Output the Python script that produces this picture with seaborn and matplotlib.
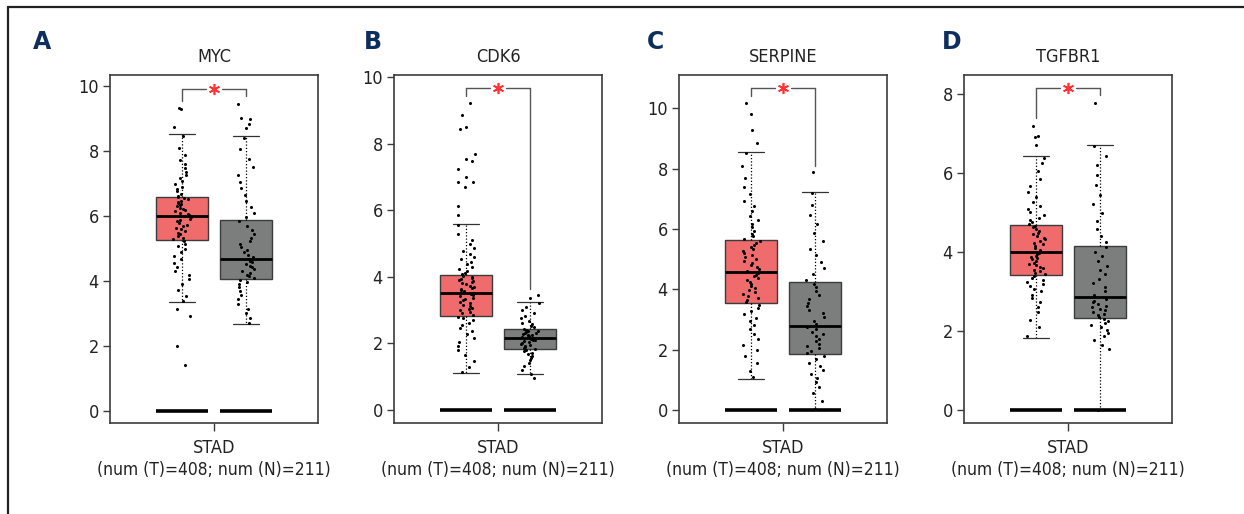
import numpy as np
import pandas as pd
import seaborn as sns
import matplotlib.pyplot as plt
from matplotlib.lines import Line2D

# genes and groups
genes = ['MYC', 'CDK6', 'SERPINE', 'TGFBR1']
panel_letters = ['A', 'B', 'C', 'D']
groups = ['Tumor', 'Normal']
x_label = 'STAD'
n_label = '(num (T)=408; num (N)=211)'

# box statistics (tumor, normal)
q1_values = {'MYC': [5.26, 4.06], 'CDK6': [2.82, 1.83], 'SERPINE': [3.53, 1.84], 'TGFBR1': [3.42, 2.34]}
median_values = {'MYC': [6.01, 4.68], 'CDK6': [3.50, 2.17], 'SERPINE': [4.57, 2.78], 'TGFBR1': [4.00, 2.86]}
q3_values = {'MYC': [6.59, 5.88], 'CDK6': [4.04, 2.42], 'SERPINE': [5.62, 4.23], 'TGFBR1': [4.69, 4.16]}
whisker_low = {'MYC': [3.35, 2.68], 'CDK6': [1.11, 1.07], 'SERPINE': [1.04, 0.0], 'TGFBR1': [1.83, 0.0]}
whisker_high = {'MYC': [8.51, 8.46], 'CDK6': [5.60, 3.24], 'SERPINE': [8.56, 7.22], 'TGFBR1': [6.43, 6.73]}

# bracket: top height, tumor leg end, normal leg end
bracket_top = [9.90, 9.66, 10.66, 8.17]
bracket_tumor_end = [9.54, 9.43, 10.40, 7.41]
bracket_normal_end = [9.67, 3.64, 8.10, 7.98]
baseline_value = 0.0

# sample points
myc_tumor = [3.38, 3.55, 3.72, 3.90, 4.05, 4.18, 4.30, 4.42, 4.55, 4.66, 4.78, 4.88, 4.97, 5.06, 5.14, 5.22,
             5.28, 5.33, 5.38, 5.43, 5.48, 5.53, 5.58, 5.63, 5.68, 5.73, 5.78, 5.83, 5.87, 5.91, 5.95, 5.99,
             6.03, 6.07, 6.10, 6.14, 6.18, 6.21, 6.25, 6.29, 6.32, 6.36, 6.40, 6.43, 6.47, 6.51, 6.54, 6.58,
             6.62, 6.68, 6.75, 6.82, 6.90, 6.98, 7.06, 7.15, 7.24, 7.35, 7.46, 7.58, 7.72, 7.88, 8.10, 8.45,
             9.30, 9.28, 8.73, 3.14, 2.92, 2.00, 1.42]
myc_normal = [2.70, 2.85, 3.00, 3.15, 3.30, 3.45, 3.58, 3.70, 3.80, 3.90, 3.98, 4.04,
              4.09, 4.14, 4.19, 4.25, 4.30, 4.36, 4.42, 4.47, 4.52, 4.57, 4.62, 4.66,
              4.72, 4.80, 4.88, 4.96, 5.05, 5.14, 5.23, 5.32, 5.44, 5.56, 5.70, 5.85,
              5.95, 6.10, 6.28, 6.45, 6.65, 6.85, 7.05, 7.25, 7.50, 7.75, 8.05, 8.40,
              9.44, 9.02, 8.98, 8.83, 8.71]
cdk6_tumor = [1.15, 1.30, 1.48, 1.65, 1.80, 1.93, 2.05, 2.16, 2.27, 2.37, 2.46, 2.54, 2.62, 2.69, 2.75, 2.80,
              2.85, 2.90, 2.94, 2.99, 3.03, 3.07, 3.12, 3.16, 3.20, 3.25, 3.29, 3.33, 3.37, 3.41, 3.45, 3.48,
              3.52, 3.56, 3.59, 3.63, 3.66, 3.70, 3.73, 3.77, 3.80, 3.84, 3.87, 3.90, 3.94, 3.97, 4.00, 4.03,
              4.07, 4.12, 4.18, 4.24, 4.30, 4.37, 4.44, 4.52, 4.60, 4.69, 4.78, 4.88, 4.99, 5.12, 5.30, 5.55,
              9.21, 8.85, 8.51, 8.44, 7.69, 7.55, 7.49, 7.25, 7.01, 6.86, 6.85, 6.70, 6.14, 5.86]
cdk6_normal = [1.08, 1.20, 1.32, 1.42, 1.50, 1.57, 1.63, 1.68, 1.72, 1.76, 1.79, 1.82,
               1.85, 1.88, 1.91, 1.94, 1.97, 2.00, 2.03, 2.06, 2.09, 2.11, 2.13, 2.16,
               2.18, 2.20, 2.22, 2.24, 2.26, 2.28, 2.30, 2.32, 2.34, 2.36, 2.38, 2.41,
               2.44, 2.48, 2.52, 2.57, 2.62, 2.68, 2.75, 2.82, 2.90, 2.99, 3.10, 3.22,
               3.44, 3.36, 0.95]
serpine_tumor = [1.08, 1.30, 1.55, 1.78, 1.98, 2.17, 2.35, 2.52, 2.67, 2.81, 2.94, 3.06, 3.18, 3.29, 3.39, 3.48,
                 3.57, 3.63, 3.70, 3.77, 3.84, 3.90, 3.97, 4.03, 4.10, 4.17, 4.23, 4.30, 4.37, 4.43, 4.49, 4.55,
                 4.60, 4.66, 4.73, 4.79, 4.86, 4.93, 4.99, 5.06, 5.13, 5.19, 5.26, 5.33, 5.39, 5.46, 5.53, 5.60,
                 5.67, 5.75, 5.84, 5.94, 6.05, 6.17, 6.30, 6.44, 6.59, 6.76, 6.94, 7.15, 7.40, 7.70, 8.10, 8.50,
                 10.17, 9.80, 9.28, 8.85]
serpine_normal = [0.02, 0.30, 0.55, 0.75, 0.92, 1.07, 1.20, 1.33, 1.45, 1.57, 1.68, 1.79,
                  1.88, 1.96, 2.04, 2.12, 2.20, 2.28, 2.36, 2.44, 2.52, 2.60, 2.68, 2.75,
                  2.84, 2.96, 3.08, 3.20, 3.32, 3.44, 3.56, 3.68, 3.80, 3.93, 4.06, 4.19,
                  4.32, 4.50, 4.70, 4.90, 5.12, 5.35, 5.60, 5.85, 6.15, 6.45, 6.80, 7.18,
                  7.87]
tgfbr1_tumor = [1.88, 2.10, 2.30, 2.48, 2.62, 2.74, 2.84, 2.93, 3.01, 3.08, 3.14, 3.20, 3.26, 3.31, 3.36, 3.40,
                3.45, 3.49, 3.53, 3.56, 3.60, 3.64, 3.67, 3.71, 3.74, 3.78, 3.82, 3.85, 3.89, 3.92, 3.95, 3.98,
                4.03, 4.07, 4.11, 4.16, 4.20, 4.24, 4.29, 4.33, 4.37, 4.42, 4.46, 4.50, 4.55, 4.59, 4.63, 4.67,
                4.72, 4.77, 4.82, 4.88, 4.94, 5.01, 5.09, 5.18, 5.28, 5.40, 5.53, 5.68, 5.85, 6.05, 6.25, 6.40,
                7.21, 6.94, 6.92, 6.73]
tgfbr1_normal = [0.00, 1.55, 1.65, 1.78, 1.88, 1.96, 2.04, 2.10, 2.16, 2.22, 2.27, 2.31,
                 2.37, 2.41, 2.45, 2.49, 2.53, 2.57, 2.61, 2.65, 2.69, 2.74, 2.78, 2.83,
                 2.92, 3.02, 3.12, 3.22, 3.33, 3.44, 3.55, 3.66, 3.78, 3.90, 4.02, 4.13,
                 4.25, 4.42, 4.60, 4.80, 5.00, 5.22, 5.45, 5.70, 5.95, 6.20, 6.45, 6.70,
                 7.79]

points = {'MYC': (myc_tumor, myc_normal), 'CDK6': (cdk6_tumor, cdk6_normal),
          'SERPINE': (serpine_tumor, serpine_normal), 'TGFBR1': (tgfbr1_tumor, tgfbr1_normal)}

# layout / style
y_limits = [(-0.37, 10.33), (-0.39, 10.06), (-0.43, 11.1), (-0.32, 8.49)]
y_tick_max = [10, 10, 10, 8]
axes_left = [110, 394, 679, 964]
letter_x = [42, 373, 655, 952]
box_colors = ['#F06B6B', '#7C7E7E']
edge_color = '#3C3C3C'
text_color = '#222222'
letter_color = '#0E2F5E'

sns.set_style('white')
plt.rcParams['font.family'] = ['DejaVu Sans']
plt.rcParams['font.stretch'] = 'condensed'

W, H = 1244, 514
fig = plt.figure(figsize=(W / 100, H / 100), dpi=100)
np.random.seed(3)

for i, gene in enumerate(genes):
    ax = fig.add_axes([axes_left[i] / W, 1 - 423 / H, 208 / W, 348 / H])

    tumor_vals, normal_vals = points[gene]
    df = pd.DataFrame({'group': ['Tumor'] * len(tumor_vals) + ['Normal'] * len(normal_vals),
                       'value': tumor_vals + normal_vals})

    # boxes from the read statistics
    stats = []
    for g in range(2):
        stats.append({'med': median_values[gene][g], 'q1': q1_values[gene][g], 'q3': q3_values[gene][g],
                      'whislo': whisker_low[gene][g], 'whishi': whisker_high[gene][g], 'fliers': []})
    bp = ax.bxp(stats, positions=[0, 1], widths=0.8, patch_artist=True, showfliers=False,
                capwidths=0.4,
                boxprops=dict(edgecolor=edge_color, linewidth=1.0),
                medianprops=dict(color='black', linewidth=2.0),
                whiskerprops=dict(color='black', linewidth=0.9, linestyle=(0, (1, 1.6))),
                capprops=dict(color='#333333', linewidth=0.9))
    for patch, c in zip(bp['boxes'], box_colors):
        patch.set_facecolor(c)

    # the thick zero line under each box
    ax.hlines([baseline_value, baseline_value], [-0.4, 0.6], [0.4, 1.4], colors='black', linewidth=2.6, zorder=3)

    sns.stripplot(data=df, x='group', y='value', order=groups, color='black', size=2.2,
                  jitter=0.14, linewidth=0, ax=ax, zorder=4)

    # significance bracket
    top = bracket_top[i]
    ax.plot([0, 0], [bracket_tumor_end[i], top], color='#555555', lw=1.0)
    ax.plot([1, 1], [bracket_normal_end[i], top], color='#555555', lw=1.0)
    ax.plot([0, 0.37], [top, top], color='#555555', lw=1.0)
    ax.plot([0.63, 1], [top, top], color='#555555', lw=1.0)
    ax.plot([0.5], [top], marker=(6, 2, 0), color='#FF3333', markersize=8, markeredgewidth=1.2)

    ax.set_xlim(-1.125, 2.125)
    ax.set_ylim(*y_limits[i])
    ax.set_yticks(range(0, y_tick_max[i] + 1, 2))
    ax.set_xticks([0.5])
    ax.set_xticklabels([''])
    ax.set_xlabel('')
    ax.set_ylabel('')
    for s in ax.spines.values():
        s.set_color(edge_color)
        s.set_linewidth(1.2)
    ax.tick_params(axis='y', left=True, length=5, width=1, color=edge_color, labelsize=13,
                   labelcolor=text_color, pad=3)
    ax.tick_params(axis='x', bottom=True, length=6, width=1, color=edge_color)

    ax.text(0.5, 1.052, gene, transform=ax.transAxes, ha='center', va='center', fontsize=13, color=text_color)
    ax.text(0.5, -0.072, x_label, transform=ax.transAxes, ha='center', va='center', fontsize=13, color=text_color)
    ax.text(0.5, -0.135, n_label, transform=ax.transAxes, ha='center', va='center', fontsize=12.5, color=text_color)

    fig.text(letter_x[i] / W, 1 - 42 / H, panel_letters[i], ha='center', va='center', fontsize=17,
             fontweight='bold', fontstretch='normal', color=letter_color)

# outer frame lines (top and left)
fig.add_artist(Line2D([8 / W, 1.0], [1 - 7 / H, 1 - 7 / H], color='#222222', lw=1.6))
fig.add_artist(Line2D([8 / W, 8 / W], [0.0, 1 - 7 / H], color='#222222', lw=1.6))

fig.savefig('out.png', dpi=100)
